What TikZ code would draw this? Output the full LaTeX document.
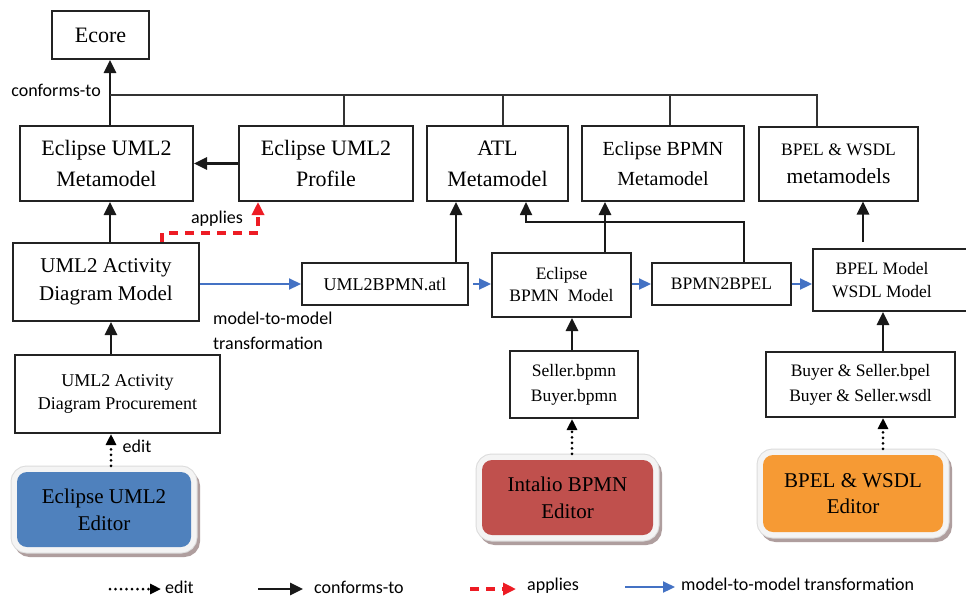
\documentclass[tikz,border=0pt]{standalone}
\usepackage{fontspec}
\setmainfont{Liberation Serif}
\newfontfamily\lab{Carlito}
\usetikzlibrary{arrows.meta,calc}
\definecolor{edblue}{RGB}{79,129,189}
\definecolor{edred}{RGB}{192,80,77}
\definecolor{edorange}{RGB}{246,154,52}
\definecolor{mblue}{RGB}{68,114,196}
\definecolor{appred}{RGB}{237,28,36}
\definecolor{boxline}{RGB}{35,35,35}
\definecolor{halo}{RGB}{244,244,244}
\definecolor{haloedge}{RGB}{220,220,220}
\definecolor{shade}{RGB}{175,158,158}
\newcommand\fsz[2]{\fontsize{#1}{#2}\selectfont}
\begin{document}
\begin{tikzpicture}[x=1pt,y=-1pt,
 box/.style={draw=boxline, line width=2pt, align=center, inner sep=0pt, text=black},
 conf/.style={line width=2.7pt, draw=black!90, -{Triangle[length=13pt,width=12pt]}},
 bus/.style={line width=1.6pt, draw=black!80},
 m2m/.style={line width=2.2pt, draw=mblue, -{Triangle[length=12pt,width=11pt]}},
 appl/.style={line width=3.2pt, draw=appred, dash pattern=on 9pt off 7pt, -{Triangle[length=13pt,width=12pt]}},
 edt/.style={line width=3pt, draw=black, dash pattern=on 0pt off 5.5pt, line cap=round, -{Triangle[length=11pt,width=10pt]}},
 lbl/.style={font=\lab\fsz{18}{22}, inner sep=0pt, text=black},
 editor/.style={rounded corners=10pt, align=center, inner sep=0pt, text=black,
   font=\fsz{21}{27}, fill=#1,
   preaction={draw=shade, fill=shade, line width=12pt, transform canvas={shift={(3pt,-4pt)}}},
   preaction={draw=haloedge, line width=13pt},
   preaction={draw=halo, line width=11pt}}
]
\useasboundingbox (0,0) rectangle (966,598);
\fill[white] (0,0) rectangle (966,598);

% top row
\node[box, minimum width=97, minimum height=48, font=\fsz{22}{26}] (ecore) at (100.5,35) {Ecore};
\node[box, minimum width=173, minimum height=75, font=\fsz{22}{31}] (umlmm) at (106.5,163.5) {Eclipse UML2\\Metamodel};
\node[box, minimum width=174, minimum height=75, font=\fsz{22}{31}] (prof) at (326,163.5) {Eclipse UML2\\Profile};
\node[box, minimum width=141, minimum height=75, font=\fsz{22}{31}] (atlmm) at (497.5,163.5) {ATL\\Metamodel};
\node[box, minimum width=162, minimum height=75, font=\fsz{20}{30}] (bpmnmm) at (663,163.5) {Eclipse BPMN\\Metamodel};
\node[box, minimum width=159, minimum height=74, font=\fsz{21.5}{28}] (bpelmm) at (838.5,163.5) {{\fsz{17.5}{28}BPEL \& WSDL}\\metamodels};

% middle row
\node[box, minimum width=186, minimum height=78, font=\fsz{21}{28}] (adm) at (106,282) {UML2 Activity\\Diagram Model};
\node[box, minimum width=166, minimum height=42, font=\fsz{18}{22}] (atl) at (385,284) {UML2BPMN.atl};
\node[box, minimum width=139, minimum height=64, font=\fsz{17.5}{22}] (bpmnmod) at (561.5,285) {Eclipse\\BPMN\ \ Model};
\node[box, minimum width=139, minimum height=42, font=\fsz{17.5}{22}] (b2b) at (721.5,284) {BPMN2BPEL};
\node[box, minimum width=162, minimum height=62, font=\fsz{17.5}{23}] (bpelmod) at (894,280) {\hspace*{-24pt}BPEL Model\\\hspace*{-24pt}WSDL Model};

% lower row
\node[box, minimum width=205, minimum height=78, font=\fsz{18}{23}] (proc) at (117.5,394) {UML2 Activity\\Diagram Procurement};
\node[box, minimum width=128, minimum height=67, font=\fsz{17.5}{25}] (seller) at (574,384.5) {Seller.bpmn\\Buyer.bpmn};
\node[box, minimum width=189, minimum height=65, font=\fsz{17.5}{25}] (buyer) at (860.5,384.5) {Buyer \& Seller.bpel\\Buyer \& Seller.wsdl};

% editors
\node[editor=edblue, minimum width=174, minimum height=75] (eumled) at (104,509.5) {Eclipse UML2\\Editor};
\node[editor=edred, minimum width=171, minimum height=75] (intal) at (567.5,497.5) {Intalio BPMN\\Editor};
\node[editor=edorange, minimum width=180, minimum height=77, font=\fsz{21}{26}] (bpeled) at (853,493.5) {BPEL \& WSDL\\Editor};

% conforms-to bus
\coordinate (busL) at (110,95);
\coordinate (busR) at (817,95);
\coordinate (bp) at (344,95);
\coordinate (ba) at (503,95);
\coordinate (bb) at (670,95);
\draw[conf] (umlmm.north -| busL) -- (ecore.south -| busL);
\draw[bus] (busL) -- (busR) -- (busR |- bpelmm.north);
\draw[bus] (bp) -- (bp |- prof.north);
\draw[bus] (ba) -- (ba |- atlmm.north);
\draw[bus] (bb) -- (bb |- bpmnmm.north);
\node[lbl, anchor=east] (lconf) at (101,90) {conforms-to};

\draw[conf] (prof.west) -- (umlmm.east);

% applies
\coordinate (c1) at (110,0);
\draw[conf] (adm.north -| c1) -- (umlmm.south -| c1);
\coordinate (ap1) at (162,233);
\coordinate (ap2) at (258,233);
\draw[appl] (adm.north -| ap1) -- (ap1) -- (ap2) -- (prof.south -| ap2);
\node[lbl] (lapp) at (217,219) {applies};

% left column
\coordinate (c2) at (111,0);
\draw[conf] (proc.north -| c2) -- (adm.south -| c2);
\draw[edt] ($(eumled.north -| c2)+(0,-6)$) -- (proc.south -| c2);
\node[lbl] (ledit) at (137,446) {edit};

% metamodel links
\coordinate (c3) at (456,0);
\draw[conf] (atl.north -| c3) -- (atlmm.south -| c3);
\coordinate (c4) at (744,222);
\coordinate (c5) at (526,222);
\draw[conf, line width=1.8pt] (b2b.north -| c4) -- (c4) -- (c5) -- (atlmm.south -| c5);
\coordinate (c6) at (605,0);
\draw[conf] (bpmnmod.north -| c6) -- (bpmnmm.south -| c6);
\coordinate (c7) at (863,0);
\draw[conf, shorten <=6pt] (bpelmod.north -| c7) -- (bpelmm.south -| c7);
\coordinate (c8) at (572,0);
\draw[conf] (seller.north -| c8) -- (bpmnmod.south -| c8);
\coordinate (c9) at (883,0);
\draw[conf] (buyer.north -| c9) -- (bpelmod.south -| c9);
\draw[edt] ($(intal.north -| c8)+(0,-6)$) -- (seller.south -| c8);
\draw[edt] ($(bpeled.north -| c9)+(0,-6)$) -- (buyer.south -| c9);

% model-to-model transformations
\coordinate (m) at (0,284);
\draw[m2m] (adm.east |- m) -- (atl.west |- m);
\draw[m2m, shorten <=4pt] (atl.east |- m) -- (bpmnmod.west |- m);
\draw[m2m] (bpmnmod.east |- m) -- (b2b.west |- m);
\draw[m2m] (b2b.east |- m) -- (bpelmod.west |- m);
\node[lbl, anchor=west, align=left, font=\lab\fsz{18}{25}] (lm2m) at (213,330.5) {model-to-model\\transformation};

% legend
\coordinate (ld1) at (110,589); \coordinate (ld2) at (161,589);
\draw[edt] (ld1) -- (ld2);
\node[lbl, anchor=west] (lg1) at (165,587) {edit};
\coordinate (lc1) at (258,589); \coordinate (lc2) at (303,589);
\draw[conf] (lc1) -- (lc2);
\node[lbl, anchor=west] (lg2) at (314,587) {conforms-to};
\coordinate (la1) at (470,589); \coordinate (la2) at (516,589);
\draw[appl] (la1) -- (la2);
\node[lbl, anchor=west] (lg3) at (527,586) {applies};
\coordinate (lm1) at (625,587); \coordinate (lm2) at (675,587);
\draw[m2m] (lm1) -- (lm2);
\node[lbl, anchor=west] (lg4) at (681,584) {model-to-model transformation};
\end{tikzpicture}
\end{document}
